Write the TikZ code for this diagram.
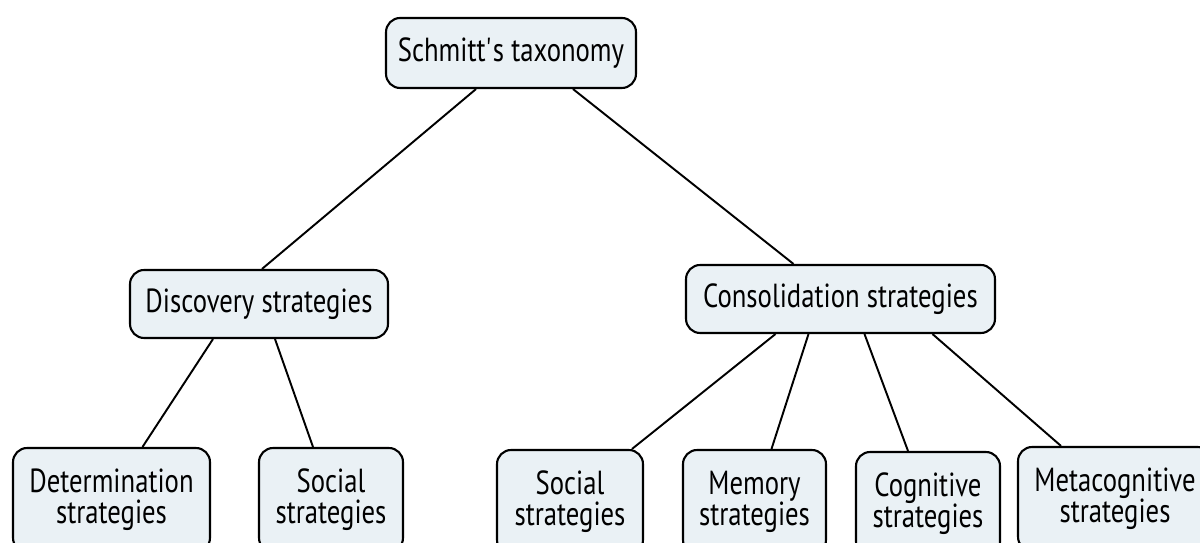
\documentclass[tikz,border=0pt]{standalone}
\usepackage{fontspec}
\setmainfont[FakeStretch=0.8]{PT Sans}
\usepackage{xcolor}
\usepackage{tikz}
\usetikzlibrary{positioning,calc}
\definecolor{boxfill}{RGB}{234,241,245}

\begin{document}
\begin{tikzpicture}[
  x=0.02cm, y=-0.02cm,
  tbox/.style={rectangle, draw, line width=1.2pt, rounded corners=8pt,
    fill=boxfill, align=center, inner sep=2pt,
    font=\fontsize{19}{17.5}\selectfont},
  leaf/.style={tbox, minimum height=2.08cm},
  link/.style={line width=1.1pt},
]
  \useasboundingbox (0,0) rectangle (1200,543);
  \node[tbox, minimum width=5cm, minimum height=1.4cm] (root) at (511,53)
    {Schmitt\textquotesingle s taxonomy};
  % second level
  \node[tbox, minimum width=5.16cm, minimum height=1.36cm] (disc) at (259,304)
    {Discovery strategies};
  \node[tbox, minimum width=6.18cm, minimum height=1.36cm] (cons) at (840.5,299)
    {Consolidation strategies};
  % leaves
  \node[leaf, minimum width=3.94cm] (det) at (111.5,500) {Determination\\strategies};
  \node[leaf, minimum width=2.88cm] (socA) at (331,500) {Social\\strategies};
  \node[leaf, minimum width=2.92cm] (socB) at (570,502) {Social\\strategies};
  \node[leaf, minimum width=2.86cm] (mem) at (754.5,502) {Memory\\strategies};
  \node[leaf, minimum width=2.88cm] (cog) at (928,504) {Cognitive\\strategies};
  \node[leaf, minimum width=3.88cm] (meta) at (1115,499) {Metacognitive\\strategies};

  \draw[link] ($(root.south)+(-35,0)$) -- ($(disc.north)+(3,0)$);
  \draw[link] ($(root.south)+(62,0)$) -- ($(cons.north)+(-47,0)$);
  \draw[link] ($(disc.south)+(-46,0)$) -- ($(det.north)+(31,0)$);
  \draw[link] ($(disc.south)+(16,0)$) -- ($(socA.north)+(-18,0)$);
  \draw[link] ($(cons.south)+(-65,0)$) -- ($(socB.north)+(62,0)$);
  \draw[link] ($(cons.south)+(-32,0)$) -- ($(mem.north)+(17,0)$);
  \draw[link] ($(cons.south)+(24,0)$) -- ($(cog.north)+(-20,0)$);
  \draw[link] ($(cons.south)+(92,0)$) -- ($(meta.north)+(-54,0)$);
\end{tikzpicture}
\end{document}
